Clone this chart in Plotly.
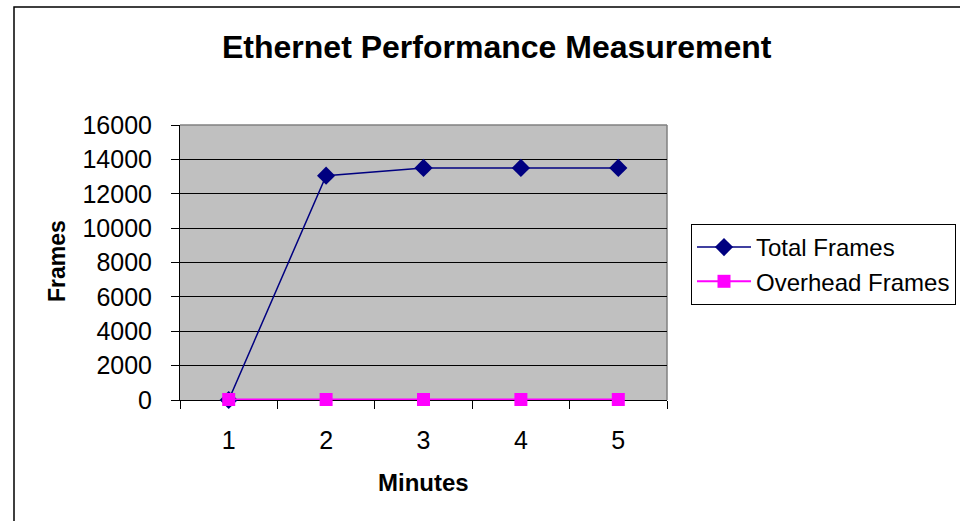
import plotly.graph_objects as go

minutes = ["1", "2", "3", "4", "5"]
total_frames = [0, 13050, 13500, 13500, 13500]
overhead_frames = [30, 30, 30, 30, 30]
y_ticks = [0, 2000, 4000, 6000, 8000, 10000, 12000, 14000, 16000]

W, H = 960, 521
L, R, T, B = 180, 667, 125, 400
FONT = "Liberation Sans, Arial, sans-serif"

def px(x):
    return (x - L) / (R - L)

def py(y):
    return (B - y) / (B - T)

fig = go.Figure()
fig.add_trace(go.Scatter(
    x=minutes, y=total_frames, name="Total Frames", mode="lines+markers",
    line=dict(color="#000080", width=1.5),
    marker=dict(symbol="diamond", size=14, color="#000080"),
    cliponaxis=False,
))
fig.add_trace(go.Scatter(
    x=minutes, y=overhead_frames, name="Overhead Frames", mode="lines+markers",
    line=dict(color="#FF00FF", width=2),
    marker=dict(symbol="square", size=13, color="#FF00FF"),
    cliponaxis=False,
))

fig.update_layout(
    width=W, height=H,
    margin=dict(l=L, r=W - R, t=T, b=H - B, pad=0, autoexpand=False),
    paper_bgcolor="white", plot_bgcolor="#C0C0C0",
    font=dict(family=FONT, size=25, color="black"),
    showlegend=True,
    legend=dict(
        x=px(691), y=py(224), xanchor="left", yanchor="top",
        bordercolor="black", borderwidth=1, bgcolor="white",
        font=dict(size=24, family=FONT), itemwidth=54, tracegroupgap=0,
    ),
    xaxis=dict(
        type="category", range=[-0.5, len(minutes) - 0.5],
        tickson="boundaries", ticks="outside", ticklen=8,
        tickcolor="black", showline=True, linecolor="black", linewidth=1,
        showgrid=False, zeroline=False, ticklabelstandoff=18,
        tickfont=dict(size=25), mirror=False, layer="below traces",
    ),
    yaxis=dict(
        range=[0, 16000], tickvals=y_ticks, tickformat="d", ticks="outside", ticklen=8,
        tickcolor="black", showline=True, linecolor="black", linewidth=1,
        showgrid=True, gridcolor="black", gridwidth=1, zeroline=False,
        ticklabelstandoff=14, tickfont=dict(size=25), layer="below traces",
    ),
    shapes=[
        dict(type="rect", xref="paper", yref="paper",
             x0=px(14), x1=px(990), y0=py(7), y1=py(540),
             line=dict(color="black", width=1.5), fillcolor="rgba(0,0,0,0)", layer="below"),
        dict(type="line", xref="paper", yref="paper",
             x0=0, x1=1, y0=1, y1=1, line=dict(color="#808080", width=1.5), layer="below"),
        dict(type="line", xref="paper", yref="paper",
             x0=1, x1=1, y0=0, y1=1, line=dict(color="#808080", width=1.5), layer="below"),
    ],
    annotations=[
        dict(text="<b>Ethernet Performance Measurement</b>", xref="paper", yref="paper",
             x=px(497), y=py(47), showarrow=False, font=dict(size=32, family=FONT),
             xanchor="center", yanchor="middle"),
        dict(text="<b>Minutes</b>", xref="paper", yref="paper",
             x=px(423), y=py(482), showarrow=False, font=dict(size=24, family=FONT),
             xanchor="center", yanchor="middle"),
        dict(text="<b>Frames</b>", xref="paper", yref="paper",
             x=px(57), y=py(261), showarrow=False, font=dict(size=23, family=FONT),
             xanchor="center", yanchor="middle", textangle=-90),
    ],
)

fig.write_html(
    "out.html",
    config={"displayModeBar": False},
    post_script="document.body.style.margin='0';document.body.style.overflow='hidden';",
)
